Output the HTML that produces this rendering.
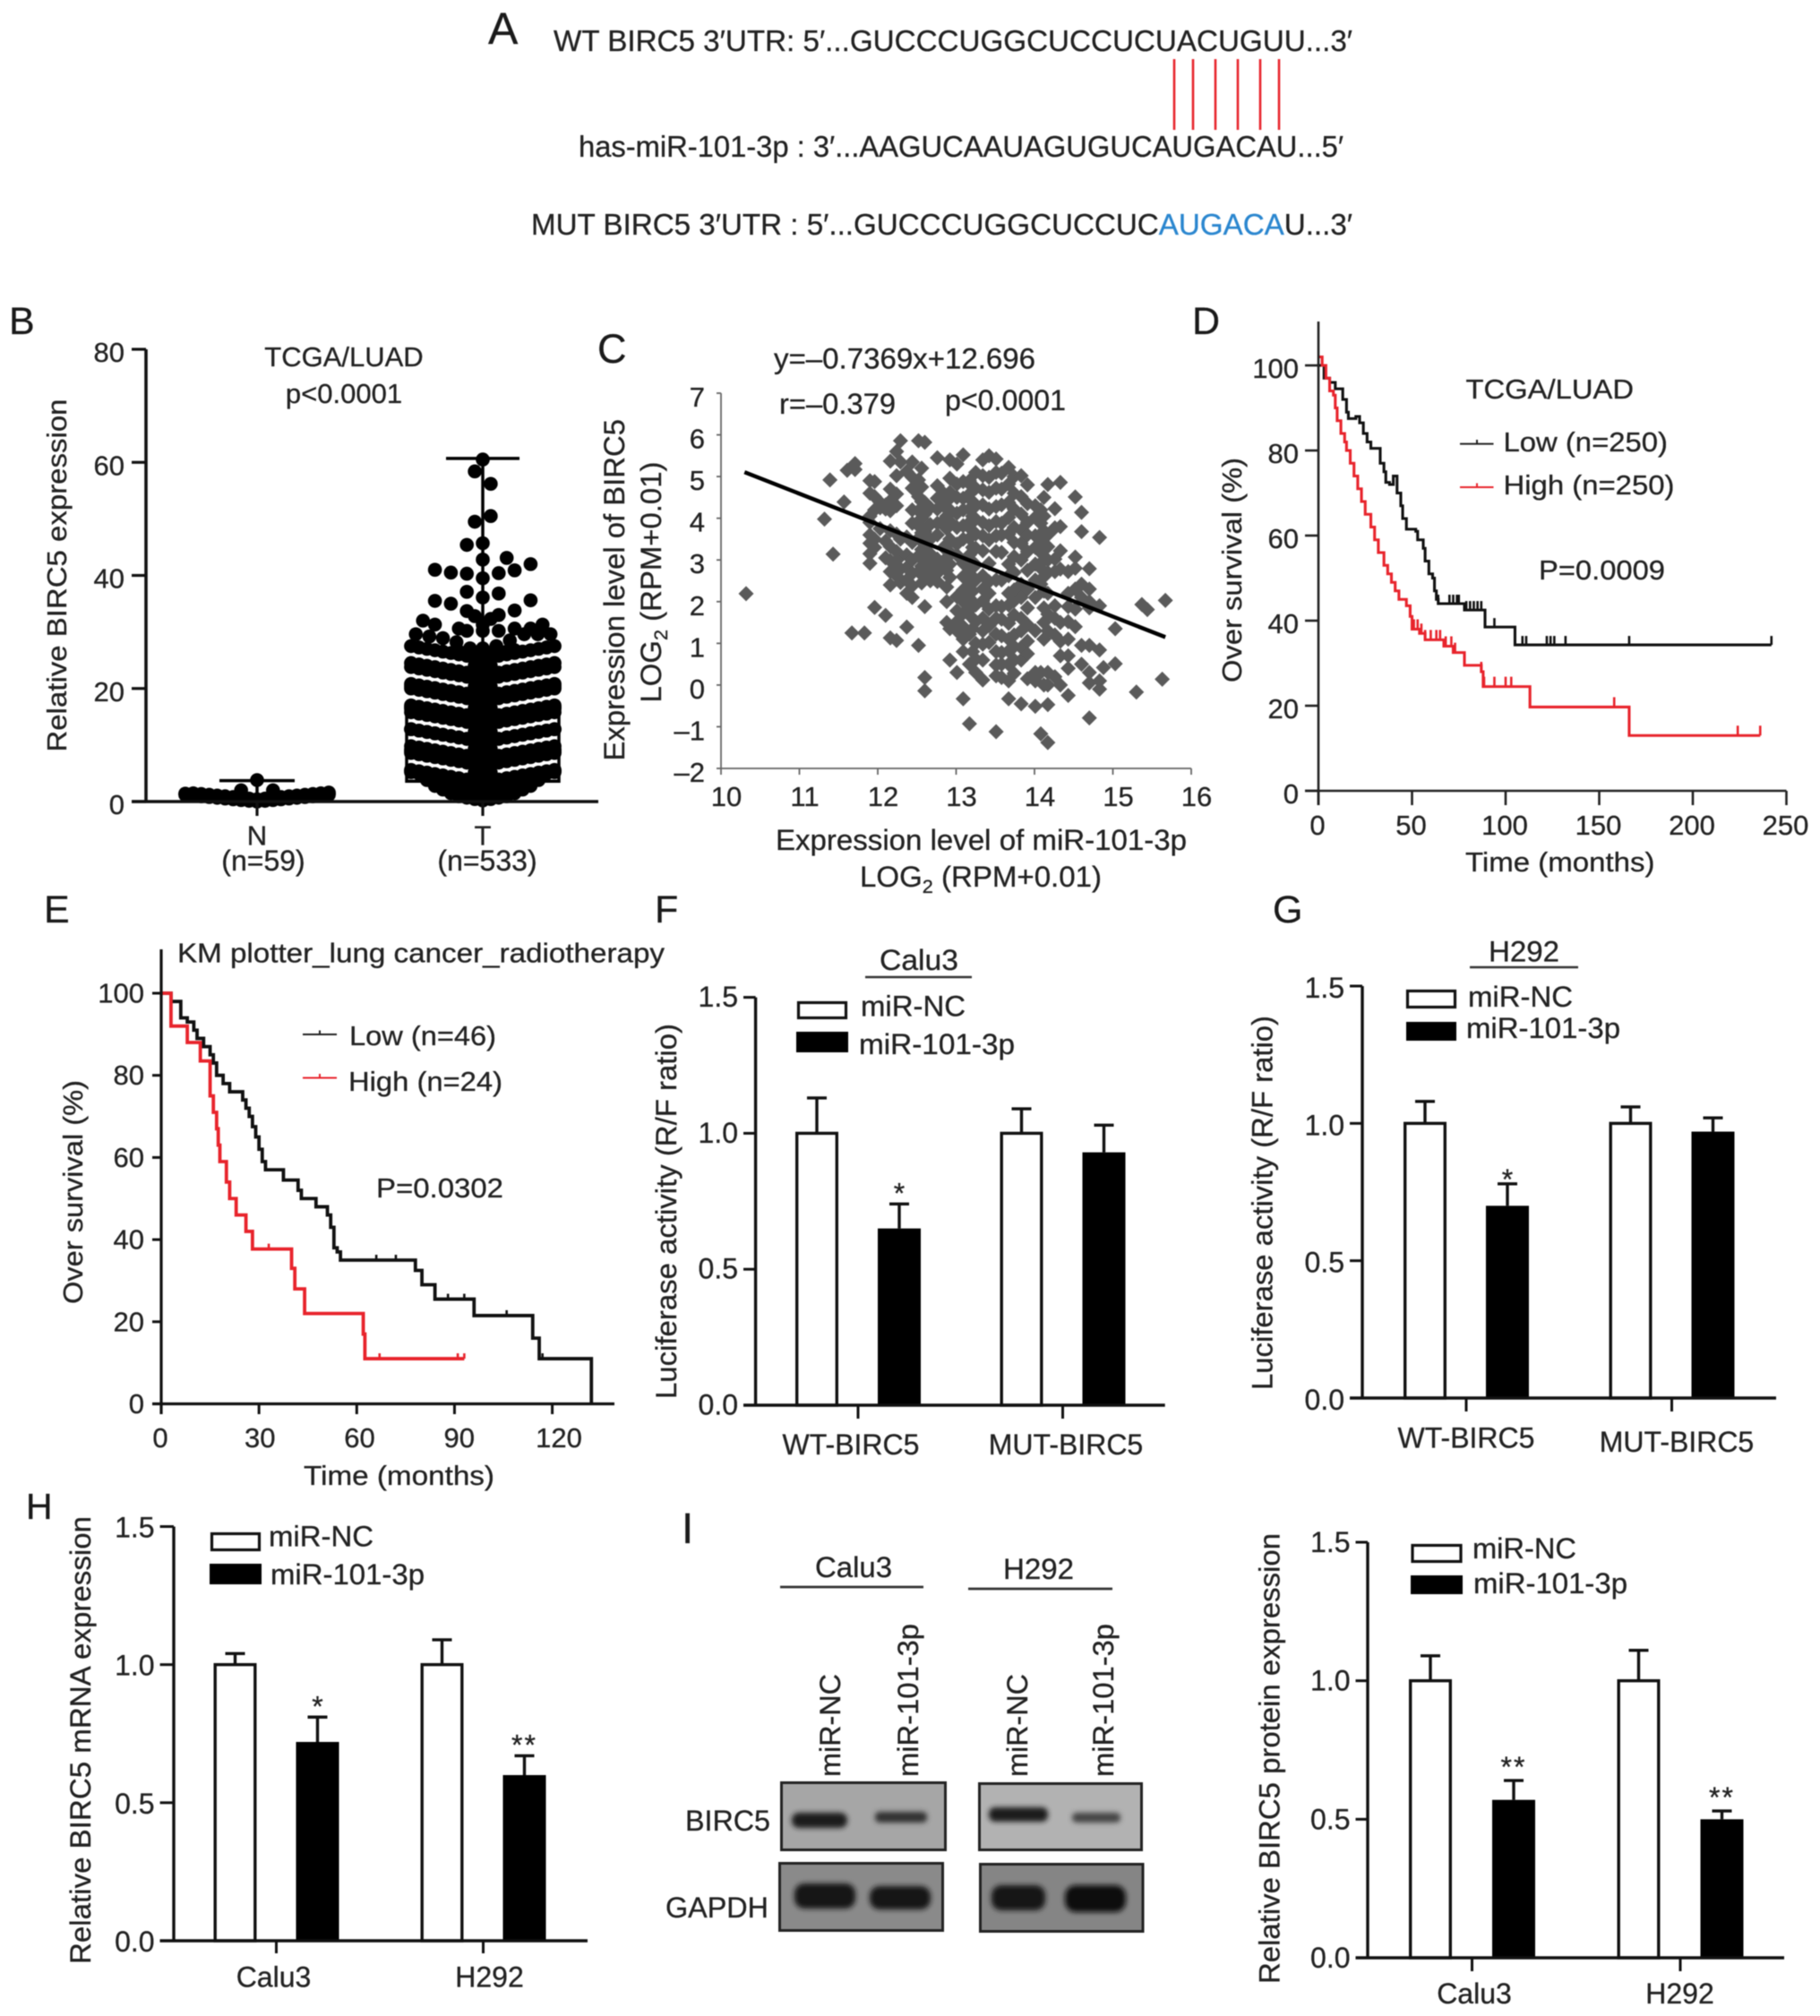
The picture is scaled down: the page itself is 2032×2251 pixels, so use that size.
<!DOCTYPE html>
<html lang="en">
<head>
<meta charset="utf-8">
<title>BIRC5 miR-101-3p multi-panel figure</title>
<style>
html,body{margin:0;padding:0;background:#fff;}
svg{display:block;filter:blur(0.55px);}
text{font-family:"Liberation Sans",Arial,sans-serif;font-size:32px;fill:#222;stroke:#222;stroke-width:0.3px;}
.letter{fill:#1a1a1a;}
</style>
</head>
<body>
<svg id="figure" xmlns="http://www.w3.org/2000/svg" width="2032" height="2251" viewBox="0 0 2032 2251">
<defs>
<filter id="blot-blur" x="-30%" y="-80%" width="160%" height="260%"><feGaussianBlur stdDeviation="3"></feGaussianBlur></filter>
</defs>
<rect x="0" y="0" width="2032" height="2251" fill="#fff"></rect>

<!-- Panel A -->
<g id="panel-a">
<text class="letter" x="545" y="49" style="font-size:50px">A</text>
<text x="618" y="57" textLength="892" lengthAdjust="spacingAndGlyphs" style="font-size:33.5px">WT BIRC5 3′UTR: 5′...GUCCCUGGCUCCUCUACUGUU...3′</text>
<line x1="1311" y1="66" x2="1311" y2="145" stroke="#e8242c" stroke-width="2.6"></line>
<line x1="1332" y1="66" x2="1332" y2="145" stroke="#e8242c" stroke-width="2.6"></line>
<line x1="1357" y1="66" x2="1357" y2="145" stroke="#e8242c" stroke-width="2.6"></line>
<line x1="1382" y1="66" x2="1382" y2="145" stroke="#e8242c" stroke-width="2.6"></line>
<line x1="1407" y1="66" x2="1407" y2="145" stroke="#e8242c" stroke-width="2.6"></line>
<line x1="1428" y1="66" x2="1428" y2="145" stroke="#e8242c" stroke-width="2.6"></line>
<text x="646" y="175" textLength="854" lengthAdjust="spacingAndGlyphs" style="font-size:33.5px">has-miR-101-3p : 3′...AAGUCAAUAGUGUCAUGACAU...5′</text>
<text x="593" y="262" textLength="917" lengthAdjust="spacingAndGlyphs" style="font-size:33.5px">MUT BIRC5 3′UTR : 5′...GUCCCUGGCUCCUC<tspan fill="#2a86cf" style="fill:#2a86cf;stroke:#2a86cf">AUGACA</tspan>U...3′</text>
</g>

<!-- Panel B -->
<g id="panel-b">
<text class="letter" x="10" y="373" style="font-size:43px">B</text>
<text x="384" y="409" text-anchor="middle" style="font-size:31px">TCGA/LUAD</text>
<text x="384" y="450" text-anchor="middle" style="font-size:31px">p&lt;0.0001</text>
<text transform="translate(74,839.5) rotate(-90)" textLength="394" lengthAdjust="spacingAndGlyphs" style="font-size:31px">Relative BIRC5 expression</text>
<text x="294" y="972" text-anchor="middle">(n=59)</text>
<text x="544" y="972" text-anchor="middle">(n=533)</text>
</g>

<!-- Panel C -->
<g id="panel-c">
<text class="letter" x="667" y="405" style="font-size:45px">C</text>
<text x="864" y="411.5" textLength="292" lengthAdjust="spacingAndGlyphs">y=–0.7369x+12.696</text>
<text x="870" y="462" textLength="130" lengthAdjust="spacingAndGlyphs">r=–0.379</text>
<text x="1055" y="458" textLength="135" lengthAdjust="spacingAndGlyphs">p&lt;0.0001</text>
<text x="866" y="949" textLength="459" lengthAdjust="spacingAndGlyphs">Expression level of miR-101-3p</text>
<text x="960" y="990" textLength="270" lengthAdjust="spacingAndGlyphs">LOG<tspan dy="7" style="font-size:21px">2</tspan><tspan dy="-7"> (RPM+0.01)</tspan></text>
<text transform="translate(697,849.5) rotate(-90)" textLength="381.5" lengthAdjust="spacingAndGlyphs">Expression level of BIRC5</text>
<text transform="translate(738,784.5) rotate(-90)" textLength="269" lengthAdjust="spacingAndGlyphs">LOG<tspan dy="7" style="font-size:21px">2</tspan><tspan dy="-7"> (RPM+0.01)</tspan></text>
</g>

<!-- Panel D -->
<g id="panel-d">
<text class="letter" x="1331" y="373" style="font-size:43px">D</text>
<text transform="translate(1386,762) rotate(-90)" textLength="251" lengthAdjust="spacingAndGlyphs" style="font-size:31px">Over survival (%)</text>
<text x="1636" y="973" textLength="211.5" lengthAdjust="spacingAndGlyphs" style="font-size:31px">Time (months)</text>
<text x="1636.5" y="445" textLength="187.5" lengthAdjust="spacingAndGlyphs" style="font-size:31px">TCGA/LUAD</text>
<line x1="1630" y1="495.6" x2="1667.5" y2="495.6" stroke="#222" stroke-width="2"></line>
<line x1="1649" y1="491" x2="1649" y2="495.6" stroke="#222" stroke-width="2"></line>
<text x="1678.5" y="504" textLength="183.5" lengthAdjust="spacingAndGlyphs" style="font-size:31px">Low (n=250)</text>
<line x1="1630" y1="544" x2="1667.5" y2="544" stroke="#e8242c" stroke-width="2"></line>
<line x1="1649" y1="539.5" x2="1649" y2="544" stroke="#e8242c" stroke-width="2"></line>
<text x="1678.5" y="552" textLength="191" lengthAdjust="spacingAndGlyphs" style="font-size:31px">High (n=250)</text>
<text x="1718" y="647" textLength="141" lengthAdjust="spacingAndGlyphs" style="font-size:31px">P=0.0009</text>
</g>

<!-- Panel E -->
<g id="panel-e">
<text class="letter" x="49" y="1030" style="font-size:43px">E</text>
<text x="198" y="1074.5" textLength="544" lengthAdjust="spacingAndGlyphs" style="font-size:31px">KM plotter_lung cancer_radiotherapy</text>
<text transform="translate(92,1456) rotate(-90)" textLength="250" lengthAdjust="spacingAndGlyphs" style="font-size:31px">Over survival (%)</text>
<text x="339" y="1658" textLength="213" lengthAdjust="spacingAndGlyphs" style="font-size:31px">Time (months)</text>
<line x1="338" y1="1155" x2="376" y2="1155" stroke="#222" stroke-width="2"></line>
<line x1="357" y1="1150.5" x2="357" y2="1155" stroke="#222" stroke-width="2"></line>
<text x="390" y="1167" textLength="164" lengthAdjust="spacingAndGlyphs" style="font-size:31px">Low (n=46)</text>
<line x1="338" y1="1203.5" x2="376" y2="1203.5" stroke="#e8242c" stroke-width="2"></line>
<line x1="357" y1="1199" x2="357" y2="1203.5" stroke="#e8242c" stroke-width="2"></line>
<text x="389" y="1218" textLength="172" lengthAdjust="spacingAndGlyphs" style="font-size:31px">High (n=24)</text>
<text x="420" y="1337" textLength="142" lengthAdjust="spacingAndGlyphs" style="font-size:31px">P=0.0302</text>
</g>

<!-- Panel F -->
<g id="panel-f">
<text class="letter" x="731" y="1030" style="font-size:43px">F</text>
<text x="982" y="1083" textLength="88" lengthAdjust="spacingAndGlyphs">Calu3</text>
<line x1="966" y1="1091" x2="1085" y2="1091" stroke="#333" stroke-width="2.5"></line>
<text transform="translate(755,1562) rotate(-90)" textLength="419" lengthAdjust="spacingAndGlyphs">Luciferase activity (R/F ratio)</text>
<rect x="891.5" y="1119.5" width="53" height="17" fill="#fff" stroke="#111" stroke-width="3.2"></rect>
<rect x="889" y="1152" width="58" height="23" fill="#000"></rect>
<text x="961" y="1134.7" textLength="117" lengthAdjust="spacingAndGlyphs">miR-NC</text>
<text x="959" y="1177" textLength="174" lengthAdjust="spacingAndGlyphs">miR-101-3p</text>
</g>

<!-- Panel G -->
<g id="panel-g">
<text class="letter" x="1421" y="1030" style="font-size:43px">G</text>
<text x="1662" y="1073.6" textLength="79" lengthAdjust="spacingAndGlyphs">H292</text>
<line x1="1641" y1="1080" x2="1762" y2="1080" stroke="#333" stroke-width="2.5"></line>
<text transform="translate(1420.5,1552) rotate(-90)" textLength="418" lengthAdjust="spacingAndGlyphs">Luciferase activity (R/F ratio)</text>
<rect x="1571.5" y="1106.5" width="53" height="18" fill="#fff" stroke="#111" stroke-width="3.2"></rect>
<rect x="1570" y="1141" width="56" height="21" fill="#000"></rect>
<text x="1639" y="1124" textLength="117" lengthAdjust="spacingAndGlyphs">miR-NC</text>
<text x="1637" y="1159" textLength="172" lengthAdjust="spacingAndGlyphs">miR-101-3p</text>
</g>

<!-- Panel H -->
<g id="panel-h">
<text class="letter" x="29" y="1696" style="font-size:41px">H</text>
<text transform="translate(101,2193) rotate(-90)" textLength="500" lengthAdjust="spacingAndGlyphs">Relative BIRC5 mRNA expression</text>
<rect x="236.5" y="1712.5" width="53" height="18" fill="#fff" stroke="#111" stroke-width="3.2"></rect>
<rect x="234" y="1746" width="58" height="23" fill="#000"></rect>
<text x="300" y="1726.7" textLength="117" lengthAdjust="spacingAndGlyphs">miR-NC</text>
<text x="302" y="1769" textLength="172" lengthAdjust="spacingAndGlyphs">miR-101-3p</text>
</g>

<!-- Panel I blot -->
<g id="panel-i-blot">
<text class="letter" x="761" y="1723" style="font-size:48px">I</text>
<text x="910" y="1761" textLength="86" lengthAdjust="spacingAndGlyphs">Calu3</text>
<line x1="871" y1="1772" x2="1031" y2="1772" stroke="#333" stroke-width="2.8"></line>
<text x="1120" y="1763" textLength="79" lengthAdjust="spacingAndGlyphs">H292</text>
<line x1="1081" y1="1774" x2="1242" y2="1774" stroke="#333" stroke-width="2.8"></line>
<text transform="translate(938,1984) rotate(-90)" textLength="115" lengthAdjust="spacingAndGlyphs">miR-NC</text>
<text transform="translate(1025,1984) rotate(-90)" textLength="171" lengthAdjust="spacingAndGlyphs">miR-101-3p</text>
<text transform="translate(1147,1984) rotate(-90)" textLength="115" lengthAdjust="spacingAndGlyphs">miR-NC</text>
<text transform="translate(1243,1984) rotate(-90)" textLength="171" lengthAdjust="spacingAndGlyphs">miR-101-3p</text>
<text x="765" y="2044" textLength="95" lengthAdjust="spacingAndGlyphs">BIRC5</text>
<text x="743" y="2141" textLength="115" lengthAdjust="spacingAndGlyphs">GAPDH</text>
<rect x="872.5" y="1990.5" width="183" height="75" fill="#a6a6a6" stroke="#222" stroke-width="3"></rect>
<rect x="1093.5" y="1991.5" width="181" height="74" fill="#b2b2b2" stroke="#222" stroke-width="3"></rect>
<rect x="870.5" y="2080.5" width="182" height="75" fill="#8a8a8a" stroke="#222" stroke-width="3"></rect>
<rect x="1094.5" y="2081.5" width="181.5" height="75" fill="#858585" stroke="#222" stroke-width="3"></rect>
<rect x="884" y="2024" width="62" height="17" rx="8" fill="#1d1d1d" filter="url(#blot-blur)"></rect>
<rect x="977" y="2023" width="58" height="12" rx="5" fill="#333" filter="url(#blot-blur)"></rect>
<rect x="1104" y="2018" width="66" height="16" rx="7" fill="#1a1a1a" filter="url(#blot-blur)"></rect>
<rect x="1197" y="2024" width="54" height="11" rx="5" fill="#444" filter="url(#blot-blur)"></rect>
<rect x="887" y="2103" width="68" height="28" rx="11" fill="#181818" filter="url(#blot-blur)"></rect>
<rect x="971" y="2106" width="68" height="26" rx="11" fill="#181818" filter="url(#blot-blur)"></rect>
<rect x="1107" y="2105" width="60" height="28" rx="11" fill="#181818" filter="url(#blot-blur)"></rect>
<rect x="1189" y="2105" width="68" height="30" rx="12" fill="#111" filter="url(#blot-blur)"></rect>
</g>

<!-- Panel I chart -->
<g id="panel-i">
<text transform="translate(1428.6,2215) rotate(-90)" textLength="503" lengthAdjust="spacingAndGlyphs">Relative BIRC5 protein expression</text>
<rect x="1577" y="1725.5" width="54" height="18" fill="#fff" stroke="#111" stroke-width="3.2"></rect>
<rect x="1575" y="1759" width="58" height="21" fill="#000"></rect>
<text x="1644" y="1740" textLength="116" lengthAdjust="spacingAndGlyphs">miR-NC</text>
<text x="1645" y="1779" textLength="172" lengthAdjust="spacingAndGlyphs">miR-101-3p</text>
</g>
</svg>

<script>
/* ---------- Panel B data ---------- */
const bCategories = ['N', 'T'];
const bTickLabels = ['0', '20', '40', '60', '80'];
const bTickValues = [0, 20, 40, 60, 80];
const nRowLevels = [0.0, 0.2, 0.4];
const nRowCounts = [19, 19, 18];
const nUpperValues = [3.8, 2.0, 2.0];
const nUpperSlots = [0, -2, 2];
const nBoxStats = [0.0, 0.3, 1.0, 3.7];
const tRowLevels = [0.2, 0.5, 0.9, 1.3, 1.7, 2.1, 2.5, 2.9, 3.0, 3.2, 3.4, 4.9, 6.4, 6.7, 7.0, 7.6, 9.1, 10.6, 10.6, 12.1, 13.6, 14.2, 14.5, 14.8, 16.3, 17.8, 18.2, 18.6, 20.1, 21.6, 22.3, 23.8, 25.3, 25.8];
const tRowCounts = [7, 9, 11, 13, 13, 15, 15, 15, 19, 19, 19, 3, 19, 19, 19, 19, 3, 19, 19, 3, 19, 19, 19, 19, 3, 19, 19, 19, 3, 19, 19, 3, 19, 8];
const tUpperValues = [60.5, 58.4, 56.2, 50.5, 49.5, 45.4, 45.7, 42.8, 43.1, 41, 40.5, 40.3, 40.4, 40.9, 42, 39.5, 37.1, 36.8, 36.1, 35.5, 35, 35.6, 33.8, 33.7, 32.8, 33, 32.3, 31.3, 32, 31.3, 30.6, 30.2, 30.2, 30.2, 30.6, 30.6, 31.3, 29.6, 29.2, 28.9, 28.2, 27.1, 27.1, 27.5, 28.5, 29.6, 29.6, 29.6];
const tUpperSlots = [0, -1, 1, 1, -1, -2, 0, 0, 3, -6, -4, -2, 2, 4, 6, 0, -2, 2, 0, -6, -4, 6, 4, -2, -1, 2, 1, 0, -7.5, -6, -3, -2, 0, 2, 4, 6, 7.5, -8.4, -6.7, -5, -3.3, -1.6, 0, 1.7, 3.4, 5.2, 6.9, 8.5];
const tBoxStats = [0.2, 3.6, 16.1, 60.7];

/* ---------- Panel C data ---------- */
const cXTicks = [10, 11, 12, 13, 14, 15, 16];
const cYTicks = [-2, -1, 0, 1, 2, 3, 4, 5, 6, 7];
const cYTickLabels = ['–2', '–1', '0', '1', '2', '3', '4', '5', '6', '7'];
const cRegressionSlope = -0.7369;
const cRegressionIntercept = 12.696;
const cRegressionRange = [10.3, 15.67];
const cStripX = [10.32, 11.32, 11.39, 11.43, 11.57, 11.61, 11.67, 11.71, 11.83, 11.9, 11.96, 12.03, 12.1, 12.16, 12.24, 12.29, 12.37, 12.44, 12.52, 12.6, 12.67, 12.76, 12.84, 12.92, 13.01, 13.09, 13.17, 13.21, 13.25, 13.34, 13.42, 12.88, 13.51, 13.58, 12.56, 13.67, 13.74, 14.12, 13.83, 13.91, 14.01, 14.08, 14.17, 14.26, 14.33, 14.43, 14.52, 14.6, 14.7, 14.83, 14.88, 15.03, 15.3, 15.37, 15.44, 15.63, 15.67];
const cStripY = [
 [2.19], [3.98], [4.92], [3.14], [4.39], [5.15], [1.25], [5.31, 5.17], [1.25],
 [3.6, 3.9, 4.05, 3.4, 3.15, 2.92, 4.6, 4.9], [1.86, 4.2, 4.52, 4.88, 3.5, 3.3], [4.25, 4.38, 3.75], [1.67, 4.22, 4.32, 3.45, 3.05],
 [5.37, 4.42, 4.7, 4.18, 3.7, 3.32, 2.98, 2.72, 2.4, 1.13], [5.6, 4.58, 4.3, 3.62, 3.2, 2.88, 2.62, 1.07, 5.02], [5.86, 3.5, 3.08, 2.78, 2.46, 5.35], [5.12, 1.39, 3.55, 3.12, 2.82, 2.52, 2.2],
 [5.35, 4.98, 4.72, 4.2, 3.88, 3.42, 3.0, 2.68, 2.38, 2.1], [4.92, 4.52, 4.18, 3.82, 3.52, 3.1, 2.72, 0.95, 5.86], [5.82, 4.38, 4.1, 3.68, 3.32, 2.98, 2.68, 1.88, 0.18, -0.14],
 [4.25, 3.85, 3.5, 3.15, 2.85, 2.5],
 [5.45, 4.78, 4.48, 4.22, 3.88, 3.6, 3.02, 2.68, 2.48],
 [4.6, 4.3, 3.95, 3.3, 2.85],
 [5.4, 4.96, 4.62, 4.2, 3.92, 3.5, 3.18, 2.9, 2.58, 1.35, 0.6],
 [5.3, 4.82, 4.5, 4.12, 3.78, 3.38, 3.12, 2.12, 1.78, 1.52, 1.3, 0.3],
 [5.52, 4.88, 4.48, 4.2, 3.82, 3.5, 2.92, 2.6, 2.28, 2.0, 1.72, 1.4, 1.1, 0.8, -0.33],
 [4.9, 4.58, 4.22, 3.9, 3.52, 3.12, 2.78, 2.42, 2.08, 1.8, 1.22, 0.5, -0.93],
 [4.75, 4.4, 4.05, 3.7, 3.3, 2.95, 2.6, 2.25, 1.95, 1.6, 1.35, 0.8],
 [5.1, 4.72, 4.3, 3.98, 3.62, 3.28, 2.88, 2.52, 1.92, 1.52, 1.0, 0.62, 0.3],
 [5.4, 5.02, 4.68, 4.32, 3.9, 3.58, 3.22, 2.62, 2.3, 2.02, 1.6, 1.3, 0.98, 0.6, 0.12],
 [5.5, 4.98, 4.62, 4.22, 3.82, 3.48, 2.92, 2.48, 2.2, 1.82, 1.42, 1.02],
 [4.4, 4.05, 3.75, 3.35, 3.05, 2.75, 2.35, 2.0, 1.5],
 [5.42, 5.1, 4.72, 4.28, 3.92, 3.58, 3.2, 2.52, 1.9, 1.6, 1.22, 0.8, 0.48, 0.22, -1.12],
 [5.08, 4.7, 4.32, 3.88, 3.6, 3.18, 2.52, 1.88, 1.58, 1.18, 0.78, 0.5, 0.18],
 [5.2, 4.75, 4.4, 4.0, 3.65, 3.25, 2.85, 2.45],
 [5.22, 4.82, 4.38, 4.02, 3.62, 2.9, 2.62, 2.2, 1.92, 1.48, 1.1, 0.82, 0.5, 0.1, -0.33],
 [5.0, 4.6, 4.22, 3.78, 3.42, 3.08, 2.7, 2.28, 2.02, 1.68, 1.2, 0.92, 0.6, 0.28],
 [4.5, 4.05, 3.7, 3.35, 3.0, 2.6, 2.25, 1.85, 1.5, 1.1, 0.0],
 [5.02, 4.52, 4.1, 3.72, 3.4, 3.0, 2.42, 2.1, 1.6, 1.3, 0.9, 0.6, -0.45],
 [4.8, 4.35, 3.9, 3.6, 3.2, 2.75, 2.3, 1.85, 1.45, 1.05, 0.75, 0.15],
 [4.3, 4.02, 3.58, 3.3, 2.9, 2.52, 2.1, 1.3, 0.3, 0.1, -0.51],
 [4.2, 3.88, 3.5, 3.18, 2.8, 2.42, 0.3, -1.17],
 [4.81, 3.6, 3.32, 3.0, 2.7, 2.2, 1.7, 1.3, 0.3, 0.0, -0.47, -1.38],
 [4.23, 3.77, 3.02, 2.72, 1.9, 1.6, 1.2, 0.2],
 [3.8, 3.22, 2.78, 1.5, 1.05, 0.7, 4.86, 0.0],
 [2.72, 2.2, 1.88, 1.52, 1.1, 0.7, 0.4, -0.25],
 [4.51, 3.07, 2.8, 2.3, 1.82, 1.4],
 [4.14, 3.68, 2.42, 2.1, 0.5, 0.95],
 [2.3, 2.0, 2.79, 1.85, 0.95, 0.3, 0.05, -0.79],
 [3.54, 1.9, 0.84, 0.1, -0.1],
 [0.42],
 [1.35, 0.51],
 [-0.17],
 [1.93],
 [1.81],
 [0.14],
 [2.03]
];

/* ---------- Panel D data ---------- */
const dXTicks = [0, 50, 100, 150, 200, 250];
const dYTicks = [0, 20, 40, 60, 80, 100];
const dLowTime = [0, 3, 6, 9, 13, 15, 16, 20, 22, 24, 26, 28, 31, 33, 35, 36, 38, 40, 42, 44, 45, 47, 52, 53, 56, 57, 59, 61, 62, 63, 64, 78, 88, 89, 105, 242];
const dLowSurvival = [100, 97, 96, 94.5, 92, 89, 87.5, 88, 86.5, 84, 82, 80.5, 80.5, 77, 75, 72.5, 72, 74, 70, 67, 64, 61.5, 61, 59, 57, 54, 51, 50, 47, 45, 44, 42.5, 42.5, 38.5, 34.3, 34.3];
const dLowCensor = [62, 64, 70, 72, 74, 75, 79, 81, 83, 85, 87, 94, 109, 111, 122, 124, 126, 132, 166, 242];
const dHighTime = [0, 2, 4, 6, 8, 9, 10, 12, 14, 15, 17, 19, 21, 23, 25, 28, 30, 32, 35, 37, 39, 41, 43, 47, 49, 50, 54, 57, 67, 72, 78, 87, 88, 112, 113, 165, 166, 236];
const dHighSurvival = [102, 100, 97, 94, 93, 90, 87, 84, 82, 80, 77, 74, 71, 68, 65, 62, 59, 56, 53, 51, 49, 47, 45, 43.5, 41, 38, 37, 35.5, 34, 32.5, 29.5, 28, 24.5, 24.5, 19.7, 19.7, 13, 13];
const dHighCensor = [51, 53, 55, 57, 60, 63, 65, 68, 71, 73, 87, 88.5, 94, 100, 103, 158, 224, 236];

/* ---------- Panel E data ---------- */
const eXTicks = [0, 30, 60, 90, 120];
const eYTicks = [0, 20, 40, 60, 80, 100];
const eLowTime = [0, 3, 6, 8, 10, 11, 13, 15, 16, 17, 19, 21, 25, 26, 27, 28, 29, 30, 31, 32, 37.5, 42, 43, 47.5, 51, 52, 53, 54, 55, 78, 80, 84, 96, 114, 116, 132];
const eLowSurvival = [100, 98, 94, 93, 91, 89, 87, 85, 83, 80, 78, 76, 74, 72, 70, 67.5, 65, 62, 59, 57, 54.5, 52, 50, 48, 46, 43, 38, 37, 35, 32.5, 29, 25.5, 21.5, 16, 11, 0];
const eLowCensor = [66, 72, 88, 93, 106, 117];
const eHighTime = [0, 3, 8, 12, 15, 16, 17, 17.5, 18, 20, 21, 23, 26, 28, 40, 41, 44, 62, 62.5, 93];
const eHighSurvival = [100, 92, 88, 83.5, 75, 71, 67, 63, 59, 54, 50, 46, 42, 37.7, 33, 28, 22, 17, 11, 11];
const eHighCensor = [33, 62, 67, 91, 93];

/* ---------- Bar chart data ---------- */
const barYTicks = [0, 0.5, 1, 1.5];
const barYTickLabels = ['0.0', '0.5', '1.0', '1.5'];
const fGroups = ['WT-BIRC5', 'MUT-BIRC5'];
const fNcValues = [1.0, 1.0];
const fNcErrors = [1.13, 1.09];
const fMirValues = [0.65, 0.93];
const fMirErrors = [0.74, 1.03];
const fStars = ['*', ''];
const gGroups = ['WT-BIRC5', 'MUT-BIRC5'];
const gNcValues = [1.0, 1.0];
const gNcErrors = [1.08, 1.06];
const gMirValues = [0.70, 0.97];
const gMirErrors = [0.78, 1.02];
const gStars = ['*', ''];
const hGroups = ['Calu3', 'H292'];
const hNcValues = [1.0, 1.0];
const hNcErrors = [1.04, 1.09];
const hMirValues = [0.72, 0.60];
const hMirErrors = [0.81, 0.67];
const hStars = ['*', '**'];
const iGroups = ['Calu3', 'H292'];
const iNcValues = [1.0, 1.0];
const iNcErrors = [1.09, 1.11];
const iMirValues = [0.57, 0.50];
const iMirErrors = [0.64, 0.53];
const iStars = ['**', '**'];

/* ---------- helpers ---------- */
const NS = 'http://www.w3.org/2000/svg';
function add(parent, tag, attrs) {
  const n = document.createElementNS(NS, tag);
  for (const k in attrs) n.setAttribute(k, attrs[k]);
  parent.appendChild(n);
  return n;
}
function linear(d0, d1, r0, r1) {
  return v => r0 + (v - d0) * (r1 - r0) / (d1 - d0);
}
function axisLine(g, x1, y1, x2, y2, color, w) {
  const el = add(g, 'line', {x1: x1, y1: y1, x2: x2, y2: y2, stroke: color, 'stroke-width': w});
  
  
}
function tickMark(g, x1, y1, x2, y2, color, w) {
  const el = add(g, 'line', {x1: x1, y1: y1, x2: x2, y2: y2, stroke: color, 'stroke-width': w});
  
  
}
function tickLabel(g, x, y, str, anchor, size) {
  const el = add(g, 'text', {x: x, y: y, 'text-anchor': anchor, style: 'font-size:' + size + 'px'});
  el.textContent = str;
  
  
}
function stepAt(times, values, t) {
  let s = values[0];
  for (let i = 0; i < times.length; i++) { if (times[i] <= t) s = values[i]; }
  return s;
}
function drawCurve(g, times, values, censor, xs, ys, color, width, tickH) {
  let d = 'M' + xs(times[0]) + ',' + ys(values[0]);
  for (let i = 1; i < times.length; i++) {
    d += 'H' + xs(times[i]) + 'V' + ys(values[i]);
  }
  const path = add(g, 'path', {d: d, fill: 'none', stroke: color, 'stroke-width': width, 'stroke-linejoin': 'miter'});
  
  
  censor.forEach(t => {
    const y = ys(stepAt(times, values, t));
    const m = add(g, 'line', {x1: xs(t), x2: xs(t), y1: y, y2: y - tickH, stroke: color, 'stroke-width': Math.min(width * 0.85, 2.6)});
    
    
  });
}

/* ---------- Panel B ---------- */
(function () {
  const g = document.getElementById('panel-b');
  const y = linear(0, 80, 895, 390);
  const catX = i => 287 + i * 252;
  const slotW = 8.9, r = 7.8;
  function dot(cx, val) {
    const c = add(g, 'circle', {cx: cx, cy: y(val), r: r, fill: '#000'});
    
    
  }
  function rows(center, levels, counts, rise) {
    levels.forEach((lvl, j) => {
      for (let i = 0; i < counts[j]; i++) {
        const slot = i % 2 ? (i + 1) / 2 : -(i / 2);
        dot(center + slot * slotW, lvl + rise * Math.abs(slot) / 9);
      }
    });
  }
  function box(center, halfBox, halfCap, stats) {
    const v = add(g, 'line', {x1: center, x2: center, y1: y(stats[0]), y2: y(stats[3]), stroke: '#000', 'stroke-width': 3.5});
    
    
    const c = add(g, 'line', {x1: center - halfCap, x2: center + halfCap, y1: y(stats[3]), y2: y(stats[3]), stroke: '#000', 'stroke-width': 3.5});
    
    
    const b = add(g, 'rect', {x: center - halfBox, y: y(stats[2]), width: halfBox * 2, height: y(stats[1]) - y(stats[2]), fill: 'none', stroke: '#000', 'stroke-width': 3.5});
    
    
  }
  rows(catX(0), nRowLevels, nRowCounts, 1.2);
  nUpperValues.forEach((v, i) => dot(catX(0) + nUpperSlots[i] * slotW, v));
  box(catX(0), 0, 42, nBoxStats);
  rows(catX(1), tRowLevels, tRowCounts, 2.2);
  tUpperValues.forEach((v, i) => dot(catX(1) + tUpperSlots[i] * slotW, v));
  box(catX(1), 85, 41, tBoxStats);
  axisLine(g, 163, 390, 163, 896.5, '#111', 3.6);
  axisLine(g, 147, 895, 668, 895, '#111', 3.6);
  bTickValues.forEach((v, i) => {
    tickMark(g, 147, y(v), 163, y(v), '#111', 3.2);
    tickLabel(g, 139, y(v) + 14, bTickLabels[i], 'end', 31);
  });
  bCategories.forEach((c, i) => {
    tickMark(g, catX(i), 895, catX(i), 911, '#111', 3.2);
    tickLabel(g, catX(i), 943.6, c, 'middle', 31);
  });
})();

/* ---------- Panel C ---------- */
(function () {
  const g = document.getElementById('panel-c');
  const x = linear(10, 16, 805, 1330);
  const y = linear(-2, 7, 858, 439);
  cStripX.forEach((xv, i) => {
    cStripY[i].forEach(yv => {
      const px = x(xv), py = y(yv);
      const p = add(g, 'polygon', {points: (px - 8.5) + ',' + py + ' ' + px + ',' + (py - 8.5) + ' ' + (px + 8.5) + ',' + py + ' ' + px + ',' + (py + 8.5), fill: '#5a5a5a'});
      
      
    });
  });
  const reg = add(g, 'line', {
    x1: x(cRegressionRange[0]), y1: y(cRegressionSlope * cRegressionRange[0] + cRegressionIntercept),
    x2: x(cRegressionRange[1]), y2: y(cRegressionSlope * cRegressionRange[1] + cRegressionIntercept),
    stroke: '#000', 'stroke-width': 4.5
  });
  
  
  axisLine(g, 805, 439, 805, 858, '#666', 1.8);
  axisLine(g, 805, 858, 1330, 858, '#666', 1.8);
  cYTicks.forEach((v, i) => {
    tickMark(g, 800, y(v), 805, y(v), '#666', 1.8);
    tickLabel(g, 787, y(v) + 15, cYTickLabels[i], 'end', 31);
  });
  cXTicks.forEach(v => {
    tickMark(g, x(v), 858, x(v), 865, '#666', 1.8);
    tickLabel(g, x(v) + 6, 900, String(v), 'middle', 31);
  });
})();

/* ---------- Panels D and E ---------- */
(function () {
  const g = document.getElementById('panel-d');
  const x = linear(0, 250, 1472, 1994.5);
  const y = linear(0, 100, 883, 408);
  drawCurve(g, dLowTime, dLowSurvival, dLowCensor, x, y, '#111', 3.1, 10);
  drawCurve(g, dHighTime, dHighSurvival, dHighCensor, x, y, '#e8242c', 3.1, 11);
  axisLine(g, 1472, 359, 1472, 899, '#222', 2.6);
  axisLine(g, 1457, 883, 1994.5, 883, '#222', 2.6);
  dYTicks.forEach(v => {
    tickMark(g, 1457, y(v), 1472, y(v), '#222', 2.6);
    tickLabel(g, 1450, y(v) + 14, String(v), 'end', 31);
  });
  dXTicks.forEach(v => {
    tickMark(g, x(v), 883, x(v), 899, '#222', 2.6);
    tickLabel(g, x(v) - 1, 932, String(v), 'middle', 31);
  });
})();
(function () {
  const g = document.getElementById('panel-e');
  const x = linear(0, 120, 180, 616.6);
  const y = linear(0, 100, 1567.5, 1109);
  drawCurve(g, eLowTime, eLowSurvival, eLowCensor, x, y, '#111', 3.8, 6);
  drawCurve(g, eHighTime, eHighSurvival, eHighCensor, x, y, '#e8242c', 3.8, 6);
  axisLine(g, 180, 1060, 180, 1579, '#111', 3.2);
  axisLine(g, 170, 1567.5, 686, 1567.5, '#111', 3.2);
  eYTicks.forEach(v => {
    tickMark(g, 170, y(v), 180, y(v), '#111', 3);
    tickLabel(g, 161, y(v) + 10.5, String(v), 'end', 31);
  });
  eXTicks.forEach(v => {
    tickMark(g, x(v), 1567.5, x(v), 1579, '#111', 3);
    tickLabel(g, x(v) - 1 + v * 0.07, 1616, String(v), 'middle', 31);
  });
})();

/* ---------- Bar charts ---------- */
function drawBars(g, o) {
  const y = linear(0, 1.5, o.base, o.top);
  const catX = i => o.cat0 + i * o.catStep;
  const half = 24;
  function errorBar(cx, v, e) {
    const s = add(g, 'line', {x1: cx, x2: cx, y1: y(v), y2: y(e), stroke: '#111', 'stroke-width': 3.4});
    
    
    const c = add(g, 'line', {x1: cx - 11, x2: cx + 11, y1: y(e), y2: y(e), stroke: '#111', 'stroke-width': 3.4});
    
    
  }
  o.groups.forEach((name, i) => {
    const cxA = catX(i) - o.offset, cxB = catX(i) + o.offset;
    errorBar(cxA, o.nc[i], o.ncErr[i]);
    const a = add(g, 'rect', {x: cxA - half + 1.7, y: y(o.nc[i]), width: 2 * half - 3.4, height: o.base - y(o.nc[i]), fill: '#fff', stroke: '#111', 'stroke-width': 3.4});
    
    
    errorBar(cxB, o.mir[i], o.mirErr[i]);
    const b = add(g, 'rect', {x: cxB - half, y: y(o.mir[i]), width: 2 * half, height: o.base - y(o.mir[i]), fill: '#000'});
    
    
    if (o.stars[i]) {
      const st = add(g, 'text', {x: cxB, y: y(o.mirErr[i]) - o.starGap + 18, 'text-anchor': 'middle', 'letter-spacing': o.stars[i].length > 1 ? 2 : 0});
      st.textContent = o.stars[i];
      
      
    }
    tickMark(g, catX(i), o.base, catX(i), o.base + o.tickDown, '#111', 3);
    const lab = add(g, 'text', {x: o.labelX[i], y: o.labelY[i], 'text-anchor': 'middle'});
    lab.textContent = name;
    
    
  });
  axisLine(g, o.axisX, o.top, o.axisX, o.base + 1.5, '#111', 3.4);
  axisLine(g, o.axisX - o.tickLeft, o.base, o.xEnd, o.base, '#111', 3.6);
  barYTicks.forEach((v, i) => {
    tickMark(g, o.axisX - o.tickLeft, y(v), o.axisX, y(v), '#111', 3);
    tickLabel(g, o.axisX - o.tickLeft - 6, y(v) + o.labelDy, barYTickLabels[i], 'end', 32);
  });
}
drawBars(document.getElementById('panel-f'), {
  base: 1569, top: 1113.6, axisX: 843.6, tickLeft: 13.6, xEnd: 1300.7, cat0: 958, catStep: 228.5, offset: 46, tickDown: 15,
  groups: fGroups, nc: fNcValues, ncErr: fNcErrors, mir: fMirValues, mirErr: fMirErrors, stars: fStars,
  starGap: 19, labelX: [950, 1190], labelY: [1624, 1624], labelDy: 10.5
});
drawBars(document.getElementById('panel-g'), {
  base: 1561, top: 1101, axisX: 1521, tickLeft: 14, xEnd: 1983, cat0: 1637, catStep: 229.5, offset: 46, tickDown: 15,
  groups: gGroups, nc: gNcValues, ncErr: gNcErrors, mir: gMirValues, mirErr: gMirErrors, stars: gStars,
  starGap: 12, labelX: [1637, 1872], labelY: [1616.6, 1621], labelDy: 13
});
drawBars(document.getElementById('panel-h'), {
  base: 2167, top: 1704.5, axisX: 194, tickLeft: 15.4, xEnd: 656, cat0: 308.5, catStep: 231, offset: 46, tickDown: 14,
  groups: hGroups, nc: hNcValues, ncErr: hNcErrors, mir: hMirValues, mirErr: hMirErrors, stars: hStars,
  starGap: 19, labelX: [305.5, 546.5], labelY: [2218.6, 2218.6], labelDy: 12
});
drawBars(document.getElementById('panel-i'), {
  base: 2186, top: 1722, axisX: 1527, tickLeft: 13.5, xEnd: 1992, cat0: 1643.5, catStep: 232.5, offset: 46.5, tickDown: 15,
  groups: iGroups, nc: iNcValues, ncErr: iNcErrors, mir: iMirValues, mirErr: iMirErrors, stars: iStars,
  starGap: 22, labelX: [1646, 1875.5], labelY: [2237, 2237], labelDy: 11
});
</script>
</body>
</html>
